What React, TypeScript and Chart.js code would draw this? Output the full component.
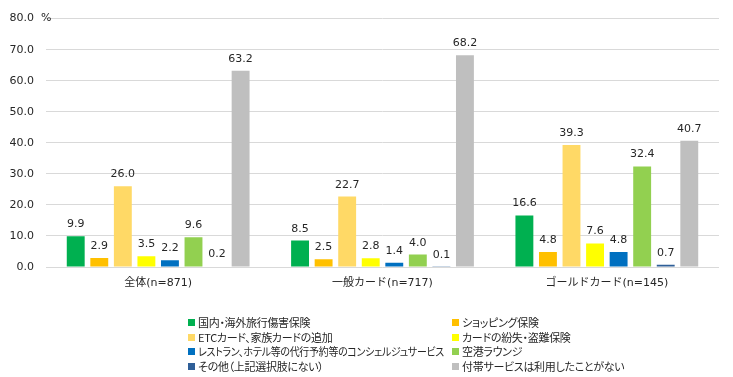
import React, { useEffect, useRef } from "react";
import { Chart, registerables } from "chart.js";

Chart.register(...registerables);

const categories = ["全体(n=871)", "一般カード(n=717)", "ゴールドカード(n=145)"];
const seriesNames = [
  "国内・海外旅行傷害保険",
  "ショッピング保険",
  "ETCカード、家族カードの追加",
  "カードの紛失・盗難保険",
  "レストラン、ホテル等の代行予約等のコンシェルジュサービス",
  "空港ラウンジ",
  "その他（上記選択肢にない）",
  "付帯サービスは利用したことがない",
];
const seriesColors = ["#00B050", "#FFC000", "#FFD966", "#FFFF00", "#0070C0", "#92D050", "#2F5F98", "#BFBFBF"];
const travel = [9.9, 8.5, 16.6];
const shopping = [2.9, 2.5, 4.8];
const etc = [26.0, 22.7, 39.3];
const lost = [3.5, 2.8, 7.6];
const concierge = [2.2, 1.4, 4.8];
const lounge = [9.6, 4.0, 32.4];
const other = [0.2, 0.1, 0.7];
const never = [63.2, 68.2, 40.7];
const seriesValues = [travel, shopping, etc, lost, concierge, lounge, other, never];
const yTicks = [0, 10, 20, 30, 40, 50, 60, 70, 80];

const numFont = "'DejaVu Sans', 'Noto Sans CJK JP', sans-serif";
const jpFont = "'Noto Sans CJK JP', sans-serif";

export default function App() {
  const ref = useRef<HTMLCanvasElement>(null);
  const textRefs = useRef<(HTMLSpanElement | null)[]>([]);
  useEffect(() => {
    const labelsPlugin = {
      id: "valueLabels",
      afterDatasetsDraw(chart: any) {
        const ctx = chart.ctx;
        ctx.save();
        ctx.font = `11px ${numFont}`;
        ctx.fillStyle = "#262626";
        ctx.textAlign = "center";
        ctx.textBaseline = "alphabetic";
        chart.data.datasets.forEach((ds: any, i: number) => {
          const meta = chart.getDatasetMeta(i);
          meta.data.forEach((el: any, j: number) => {
            ctx.fillText(Number(ds.data[j]).toFixed(1), el.x, el.y - 9);
          });
        });
        const ca = chart.chartArea;
        ctx.textAlign = "left";
        ctx.textBaseline = "middle";
        ctx.fillText("%", ca.left - 5, ca.top);
        ctx.restore();
      },
    };
    const chart = new Chart(ref.current!, {
      type: "bar",
      data: {
        labels: categories,
        datasets: seriesNames.map((n, i) => ({
          label: n,
          data: seriesValues[i],
          backgroundColor: seriesColors[i],
          categoryPercentage: 0.84,
          barPercentage: 0.76,
        })),
      },
      options: {
        responsive: false,
        animation: false,
        layout: { padding: { top: 15, right: 14, left: 0, bottom: 0 } },
        plugins: { legend: { display: false }, tooltip: { enabled: false } },
        scales: {
          x: {
            grid: { display: false, drawTicks: false },
            border: { display: false },
            ticks: { padding: 10, color: "#262626", font: { family: numFont, size: 11 } },
            afterFit: (s: any) => { s.height = 110; },
          },
          y: {
            min: 0,
            max: 80,
            afterBuildTicks: (s: any) => { s.ticks = yTicks.map((v) => ({ value: v })); },
            grid: { color: "#D9D9D9", drawTicks: false },
            border: { display: false },
            ticks: {
              padding: 12,
              color: "#262626",
              font: { family: numFont, size: 11 },
              callback: (v: any) => Number(v).toFixed(1),
            },
            afterFit: (s: any) => { s.width = 46; },
          },
        },
      },
      plugins: [labelsPlugin],
    });
    // keep each legend text within its column
    textRefs.current.forEach((el, i) => {
      if (!el) return;
      const maxW = i % 2 === 0 ? 246 : 260;
      const w = el.getBoundingClientRect().width;
      if (w > maxW) {
        el.style.transform = `scaleX(${maxW / w})`;
      }
    });
    return () => chart.destroy();
  }, []);

  const colX = [188, 452];
  const rowY = [322, 337, 351, 366];
  return (
    <div style={{ position: "fixed", left: 0, top: 0, width: 733, height: 377, background: "#fff" }}>
      <canvas ref={ref} width={733} height={377} style={{ position: "absolute", left: 0, top: 0 }} />
      {seriesNames.map((n, i) => {
        const col = i % 2;
        const row = Math.floor(i / 2);
        return (
          <div
            key={n}
            style={{
              position: "absolute",
              left: colX[col],
              top: rowY[row] - 8,
              height: 16,
              display: "flex",
              alignItems: "center",
              whiteSpace: "nowrap",
              fontFamily: jpFont,
              fontSize: 11,
              color: "#262626",
              fontFeatureSettings: '"palt"',
              letterSpacing: "-0.3px",
            }}
          >
            <span style={{ display: "inline-block", width: 7, height: 7, background: seriesColors[i], marginRight: 3 }} />
            <span
              ref={(el) => { textRefs.current[i] = el; }}
              style={{ display: "inline-block", transformOrigin: "left center" }}
            >
              {n}
            </span>
          </div>
        );
      })}
    </div>
  );
}
